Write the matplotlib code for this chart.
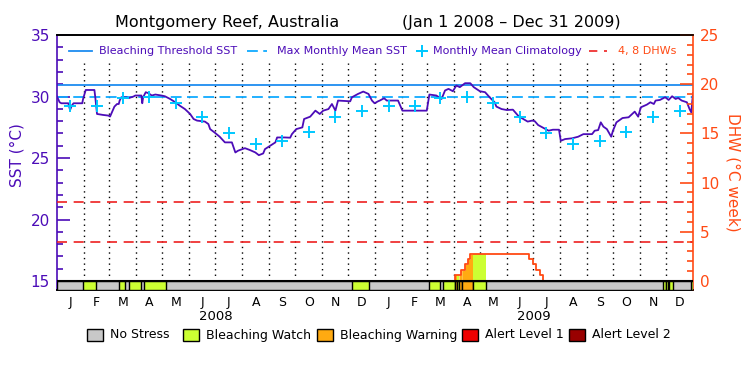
import matplotlib
matplotlib.use('Agg')
import matplotlib.pyplot as plt
import numpy as np
from matplotlib.lines import Line2D
from matplotlib.patches import Rectangle
from matplotlib.ticker import FixedLocator
import matplotlib.transforms as mtransforms

# ---- data (days counted from Jan 1 2008) ----
sst_day = [0, 3, 5, 13, 15, 17, 19, 29, 30, 33, 43, 44, 46, 53, 59, 61, 63, 66, 69, 71,
           72, 74, 80, 82, 88, 90, 97, 98, 99, 102, 105, 109, 113, 120, 124, 130, 136, 141,
           147, 153, 157, 161, 170, 174, 176, 181, 185, 187, 193, 201, 205, 208, 216, 222,
           228, 232, 237, 239, 245, 251, 253, 262, 268, 270, 275, 282, 284, 291, 297, 302,
           306, 312, 316, 320, 323, 337, 339, 346, 352, 358, 362, 365, 369, 371, 376, 379,
           392, 397, 425, 428, 436, 442, 446, 450, 455, 459, 463, 469, 475, 479, 486, 492,
           498, 503, 505, 511, 517, 524, 530, 534, 541, 546, 549, 553, 558, 565, 570, 577,
           579, 584, 592, 599, 605, 615, 618, 622, 625, 628, 632, 637, 639, 643, 650, 657,
           664, 668, 671, 678, 682, 686, 688, 693, 699, 703, 707, 711, 714, 718, 724, 727,
           729, 730, 731]
sst_val = [30.0, 29.53, 29.45, 29.45, 28.9, 29.26, 29.45, 29.45, 29.8, 30.53, 30.53, 29.94,
           28.58, 28.5, 28.45, 28.37, 28.7, 29.18, 29.39, 29.39, 29.67, 29.94, 29.94, 29.86,
           30.0, 30.08, 30.08, 29.45, 29.94, 30.35, 30.27, 30.08, 30.16, 30.08, 30.02, 29.8,
           29.53, 29.26, 28.98, 28.58, 28.17, 28.04, 27.96, 27.76, 27.35, 27.08, 26.85, 26.73,
           26.27, 26.27, 25.45, 25.59, 25.8, 25.64, 25.45, 25.23, 25.37, 25.72, 25.99, 26.27,
           26.67, 26.67, 26.65, 26.94, 27.35, 27.49, 28.17, 28.36, 28.85, 28.58, 28.85, 28.98,
           29.39, 28.85, 29.67, 29.61, 29.94, 30.21, 30.4, 30.21, 29.67, 29.45, 29.61, 29.67,
           29.86, 29.67, 29.67, 28.85, 28.85, 30.16, 30.08, 29.8, 30.49, 30.62, 30.43, 30.89,
           30.76, 31.08, 31.08, 30.76, 30.43, 30.35, 29.88, 29.53, 29.18, 28.98, 28.9, 28.93,
           28.44, 28.25, 27.96, 28.04, 28.0, 27.68, 27.49, 27.22, 27.3, 27.3, 26.4, 26.54,
           26.6, 26.73, 26.94, 26.94, 27.22, 27.27, 27.9, 27.55, 27.35, 26.73, 27.22, 27.9,
           28.25, 28.31, 28.77, 28.36, 29.12, 29.34, 29.53, 29.39, 29.67, 29.72, 29.94, 29.72,
           30.02, 29.8, 29.88, 29.67, 29.53, 28.98, 28.71, 29.45, 30.27]

clim = [29.2, 29.2, 29.85, 29.94, 29.5, 28.35, 27.0, 26.15, 26.35, 27.15, 28.35, 28.8]
mmm = 29.94
threshold = 30.94
dhw_lines = [4, 8]

dhw_day = [0, 457, 464, 469, 472, 475, 542, 547, 551, 555, 559, 731]
dhw_val = [0, 0.6, 1.1, 1.7, 2.2, 2.7, 2.2, 1.7, 1.1, 0.6, 0, 0]

# stress level: 0 no stress, 1 watch, 2 warning, 3 alert 1, 4 alert 2
stress_start = [0, 30.3, 71.7, 83, 100, 338.7, 427, 444, 457.5, 460, 462, 465.5, 478.5,
                697, 700.5, 703.5, 728.7]
stress_end = [731, 44.5, 78.5, 97, 125, 359, 440, 457.5, 460, 462, 465.5, 478.5, 493,
              699.6, 702.5, 707.5, 731]
stress_level = [0, 1, 1, 1, 1, 1, 1, 1, 2, 1, 2, 2, 1, 1, 1, 1, 1]

stress_names = ['No Stress', 'Bleaching Watch', 'Bleaching Warning', 'Alert Level 1', 'Alert Level 2']
stress_colors = ['#c8c8c8', '#ccff33', '#ffaa11', '#ee0000', '#990000']
month_letters = list('JFMAMJJASOND') * 2
years = ['2008', '2009']

purple = '#4c0cb8'
orange = '#ff4a14'
c_thr = '#1e8cf0'
c_mmm = '#10aaff'
c_clim = '#00c8ff'
c_red = '#ee2020'

# calendar positions
months = np.arange('2008-01', '2010-01', dtype='datetime64[M]')
mstart = (months.astype('datetime64[D]') - np.datetime64('2008-01-01')).astype(int)
mend = np.append(mstart[1:], 731)
mmid = (mstart + mend) / 2.0

fig = plt.figure(figsize=(7.5, 3.75), dpi=100)
ax = fig.add_axes([57 / 750, 1 - 290 / 375, 636 / 750, 255 / 375])
ax.set_xlim(0, 731)
ax.set_ylim(15 - 9 / 12.3, 35)
ax2 = ax.twinx()
ax2.set_ylim(-9 / 9.84, 25)

# month separators
ax.vlines(mstart[1:], 15, 32.72, colors='k', linestyles=(0, (1, 3)), lw=1.0, zorder=1)

ax.axhline(threshold, color=c_thr, lw=1.3, zorder=2)
ax.axhline(mmm, color=c_mmm, lw=1.3, dashes=(6, 3), zorder=2)
ax.plot(sst_day, sst_val, color=purple, lw=1.3, zorder=3)
ax.plot(mmid, np.tile(clim, 2), ls='none', marker='+', ms=8, mew=1.4, color=c_clim, zorder=4)

for v in dhw_lines:
    ax2.axhline(v, color=c_red, lw=1.2, dashes=(6, 4), zorder=2)

# DHW curve with fill by stress level
dd = np.array(dhw_day, dtype=float)
dv = np.array(dhw_val)
def dhw_at(x):
    return dv[np.clip(np.searchsorted(dd, x, side='right') - 1, 0, len(dv) - 1)]

for s, e, lev in zip(stress_start, stress_end, stress_level):
    if lev == 0:
        continue
    xs = np.linspace(s, e, 200)
    ax2.fill_between(xs, 0, dhw_at(xs), color=stress_colors[lev], lw=0, zorder=2)
ax2.step(dhw_day, dhw_val, where='post', color=orange, lw=1.3, zorder=3)

# stress bar
y0 = ax2.get_ylim()[0]
for s, e, lev in zip(stress_start, stress_end, stress_level):
    ax2.bar(s, y0 * -1, width=e - s, bottom=y0, align='edge',
            color=stress_colors[lev], edgecolor='k', lw=1.0, zorder=5)
ax2.axhline(0, color='k', lw=1.5, zorder=6)

# axes styling
for a in (ax, ax2):
    a.spines['top'].set_color('k')
    a.spines['bottom'].set_color('k')
ax.spines['left'].set_color(purple)
ax.spines['right'].set_visible(False)
ax2.spines['left'].set_visible(False)
ax2.spines['right'].set_color(orange)
for a in (ax, ax2):
    for sp in a.spines.values():
        sp.set_linewidth(1.2)

ax.set_yticks([15, 20, 25, 30, 35])
ax.yaxis.set_minor_locator(FixedLocator(np.arange(15, 36, 1)))
ax.tick_params(axis='y', which='major', direction='in', length=9.5, width=1.2,
               colors=purple, labelsize=11, pad=5)
ax.tick_params(axis='y', which='minor', direction='in', length=4.5, width=1.2, colors=purple)
ax2.set_yticks([0, 5, 10, 15, 20, 25])
ax2.yaxis.set_minor_locator(FixedLocator(np.arange(0, 26, 1)))
ax2.tick_params(axis='y', which='major', direction='in', length=9.5, width=1.2,
                colors=orange, labelsize=11, pad=5)
ax2.tick_params(axis='y', which='minor', direction='in', length=4.5, width=1.2, colors=orange)

ax.set_xticks(mmid, month_letters)
ax.tick_params(axis='x', length=0, labelsize=9, pad=4)

trans = mtransforms.blended_transform_factory(ax.transData, ax.transAxes)
for i, yr in enumerate(years):
    ax.text((mstart[12 * i] + mend[12 * i + 11]) / 2, -0.102, yr, transform=trans,
            ha='center', va='center', fontsize=9.5)

fig.text(17 / 750, 1 - 155 / 375, 'SST (°C)', rotation=90, ha='center', va='center',
         color=purple, fontsize=11)
fig.text(733 / 750, 1 - 172 / 375, 'DHW (°C week)', rotation=270, ha='center', va='center',
         color=orange, fontsize=11)

fig.text(227 / 750, 1 - 23 / 375, 'Montgomery Reef, Australia', ha='center', va='center', fontsize=11.5)
fig.text(511 / 750, 1 - 23 / 375, '(Jan 1 2008 – Dec 31 2009)', ha='center', va='center', fontsize=11.5)

# top legend, laid out by hand in pixel positions
ly = 1 - 51 / 375
legend_items = [
    ('Bleaching Threshold SST', purple, dict(color=c_thr, lw=1.3), (69, 92), 99),
    ('Max Monthly Mean SST', purple, dict(color=c_mmm, lw=1.3, dashes=(6, 3)), (247, 267), 277),
    ('Monthly Mean Climatology', purple, dict(color=c_clim, ls='none', marker='+', ms=8, mew=1.4), (422, 422), 433),
    ('4, 8 DHWs', orange, dict(color=c_red, lw=1.2, dashes=(5, 4)), (589, 607), 618),
]
for label, tcol, style, (hx0, hx1), tx in legend_items:
    fig.add_artist(Line2D([hx0 / 750, hx1 / 750], [ly, ly], transform=fig.transFigure, **style))
    fig.text(tx / 750, ly, label, ha='left', va='center', color=tcol, fontsize=8)

# bottom legend
box_x = [87, 183, 317, 462, 569]
for bx, name, col in zip(box_x, stress_names, stress_colors):
    fig.patches.append(Rectangle((bx / 750, 1 - 341 / 375), 16 / 750, 12 / 375,
                                 transform=fig.transFigure, facecolor=col,
                                 edgecolor='k', lw=1.0))
    fig.text((bx + 23) / 750, 1 - 335 / 375, name, ha='left', va='center', fontsize=9)

fig.savefig('out.png', dpi=100)
